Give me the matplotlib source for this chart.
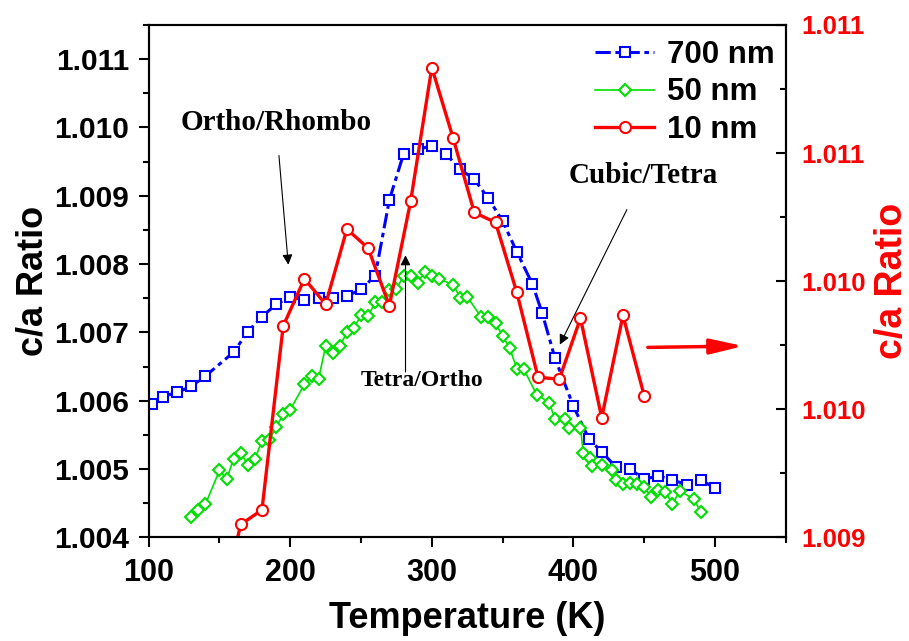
import numpy as np
import matplotlib
matplotlib.use('Agg')
import matplotlib.pyplot as plt

# 700 nm (left axis)
t_700 = [102, 110, 120, 130, 140, 160, 170, 180, 190, 200, 210, 220, 230, 240, 250,
         260, 270, 280, 290, 300, 310, 320, 330, 340, 350, 360, 371, 378, 387, 400,
         411, 420, 430, 440, 450, 460, 470, 480, 490, 500]
ca_700 = [1.00595, 1.00606, 1.00612, 1.00621, 1.00636, 1.00671, 1.00701, 1.00723, 1.00741,
          1.00752, 1.00748, 1.00751, 1.00751, 1.00753, 1.00763, 1.00783, 1.00894, 1.00961,
          1.00968, 1.00973, 1.00961, 1.00939, 1.00924, 1.00896, 1.00863, 1.00818, 1.00771,
          1.00728, 1.00662, 1.00592, 1.00544, 1.00525, 1.00503, 1.00500, 1.00485, 1.00490,
          1.00484, 1.00477, 1.00484, 1.00472]

# 50 nm (left axis)
t_50 = [130, 135, 140, 150, 155, 160, 165, 170, 175, 180, 185, 190, 195, 200, 210, 215,
        220, 225, 230, 235, 240, 245, 250, 255, 260, 265, 270, 275, 280, 285, 290, 295,
        300, 305, 315, 320, 325, 335, 340, 345, 350, 355, 360, 365, 374, 383, 387, 394,
        397, 405, 407, 412, 413, 420, 427, 430, 435, 440, 445, 450, 455, 460, 465, 470,
        475, 485, 490]
ca_50 = [1.00429, 1.00440, 1.00448, 1.00498, 1.00485, 1.00515, 1.00524, 1.00506, 1.00515,
         1.00541, 1.00542, 1.00561, 1.00580, 1.00587, 1.00624, 1.00636, 1.00632, 1.00680,
         1.00670, 1.00680, 1.00700, 1.00707, 1.00725, 1.00724, 1.00744, 1.00744, 1.00762,
         1.00764, 1.00782, 1.00783, 1.00772, 1.00789, 1.00783, 1.00778, 1.00770, 1.00751,
         1.00752, 1.00722, 1.00723, 1.00713, 1.00695, 1.00677, 1.00647, 1.00646, 1.00609,
         1.00597, 1.00573, 1.00573, 1.00560, 1.00560, 1.00524, 1.00516, 1.00504, 1.00506,
         1.00498, 1.00484, 1.00478, 1.00480, 1.00478, 1.00474, 1.00459, 1.00469, 1.00467,
         1.00448, 1.00468, 1.00456, 1.00437]

# 10 nm (right axis)
t_10 = [150, 165, 180, 195, 210, 225, 240, 255, 270, 285, 300, 315, 330, 345, 360,
        375, 390, 405, 420, 435, 450]
ca_10 = [1.00870, 1.009050, 1.009107, 1.009825, 1.010009, 1.009910, 1.010203, 1.010129,
         1.009904, 1.010311, 1.010834, 1.010559, 1.010268, 1.010229, 1.009957, 1.009625,
         1.009617, 1.009855, 1.009467, 1.009866, 1.009553]

left_ticks = [1.004, 1.005, 1.006, 1.007, 1.008, 1.009, 1.010, 1.011]
right_ticks = [1.009, 1.0095, 1.010, 1.0105, 1.011]
right_labels = ['1.009', '1.010', '1.010', '1.011', '1.011']
x_ticks = [100, 200, 300, 400, 500]

plt.rcParams['font.family'] = ['Liberation Sans', 'DejaVu Sans']
plt.rcParams['font.weight'] = 'bold'

fig = plt.figure(figsize=(9.09, 6.41), dpi=100)
ax = fig.add_axes([0.1636, 0.1618, 0.7008, 0.7992])
ax2 = ax.twinx()

l1, = ax.plot(t_700, ca_700, color='blue', ls=(0, (5, 1.5, 1.5, 1.5)), lw=2.2, marker='s',
              ms=7, mfc='white', mec='blue', mew=1.5, label='700 nm')
l2, = ax.plot(t_50, ca_50, color='#00e000', ls='-', lw=1.2, marker='D', ms=6,
              mfc='white', mec='#00e000', mew=1.5, label='50 nm')
l3, = ax2.plot(t_10, ca_10, color='red', ls='-', lw=2.4, marker='o', ms=8,
               mfc='white', mec='red', mew=1.5, label='10 nm')

ax.set_xlim(100, 550)
ax.set_ylim(1.004, 1.0115)
ax2.set_ylim(1.009, 1.011)

ax.set_xticks(x_ticks)
ax.set_xticks(np.arange(150, 551, 100), minor=True)
ax.set_yticks(left_ticks)
ax.set_yticklabels(['%.3f' % v for v in left_ticks])
ax.set_yticks(np.arange(1.0045, 1.0115, 0.001), minor=True)
ax2.set_yticks(right_ticks)
ax2.set_yticklabels(right_labels)
ax2.set_yticks([1.00925, 1.00975, 1.01025, 1.01075], minor=True)

for a in (ax, ax2):
    for s in a.spines.values():
        s.set_linewidth(1.5)
ax.tick_params(axis='both', which='major', direction='out', length=7, width=1.5)
ax.tick_params(axis='both', which='minor', direction='out', length=4, width=1.5)
ax.tick_params(axis='y', right=False, labelsize=21.5, pad=7)
ax.tick_params(axis='x', labelsize=22, pad=8)
ax2.tick_params(axis='y', which='major', direction='in', length=7, width=1.5,
                labelsize=18.5, labelcolor='red', pad=11)
ax2.tick_params(axis='y', which='minor', direction='in', length=4, width=1.5)

ax.set_xlabel('Temperature (K)', fontsize=26, fontweight='bold', labelpad=9)
ax.set_ylabel('c/a Ratio', fontsize=26, fontweight='bold', labelpad=3)
ax2.set_ylabel('c/a Ratio', fontsize=27, fontweight='bold', color='red', labelpad=6)

serif = ['Liberation Serif', 'DejaVu Serif']
ax.annotate('Ortho/Rhombo', xy=(198.6, 1.00799), xytext=(190, 1.01007),
            ha='center', va='center', fontsize=21, fontweight='bold', family=serif,
            arrowprops=dict(arrowstyle='-|>', lw=0.8, color='black', shrinkA=12,
                            shrinkB=0, mutation_scale=15))
ax.annotate('', xy=(281.4, 1.00813), xytext=(281.4, 1.00642),
            arrowprops=dict(arrowstyle='-|>', lw=0.8, color='black', shrinkA=0,
                            shrinkB=0, mutation_scale=15))
ax.text(292.7, 1.00630, 'Tetra/Ortho', ha='center', va='center', fontsize=17,
        fontweight='bold', family=serif)
ax.annotate('Cubic/Tetra', xy=(390.4, 1.00682), xytext=(449.6, 1.00929),
            ha='center', va='center', fontsize=21, fontweight='bold', family=serif,
            arrowprops=dict(arrowstyle='-|>', lw=0.8, color='black', shrinkA=14,
                            shrinkB=0, mutation_scale=15))
ax.annotate('', xy=(520.1, 1.00680), xytext=(452.6, 1.00678),
            arrowprops=dict(arrowstyle='-|>,head_length=1.0,head_width=0.23',
                            lw=2.5, color='red', shrinkA=0, shrinkB=0,
                            mutation_scale=20))

leg = ax2.legend(handles=[l1, l2, l3], loc='upper right', bbox_to_anchor=(1.012, 1.008),
                 frameon=False, fontsize=22.5, handlelength=1.9, handletextpad=0.4,
                 labelspacing=0.25, borderaxespad=0.2)
for txt in leg.get_texts():
    txt.set_fontweight('bold')

fig.savefig('out.png', dpi=100)
